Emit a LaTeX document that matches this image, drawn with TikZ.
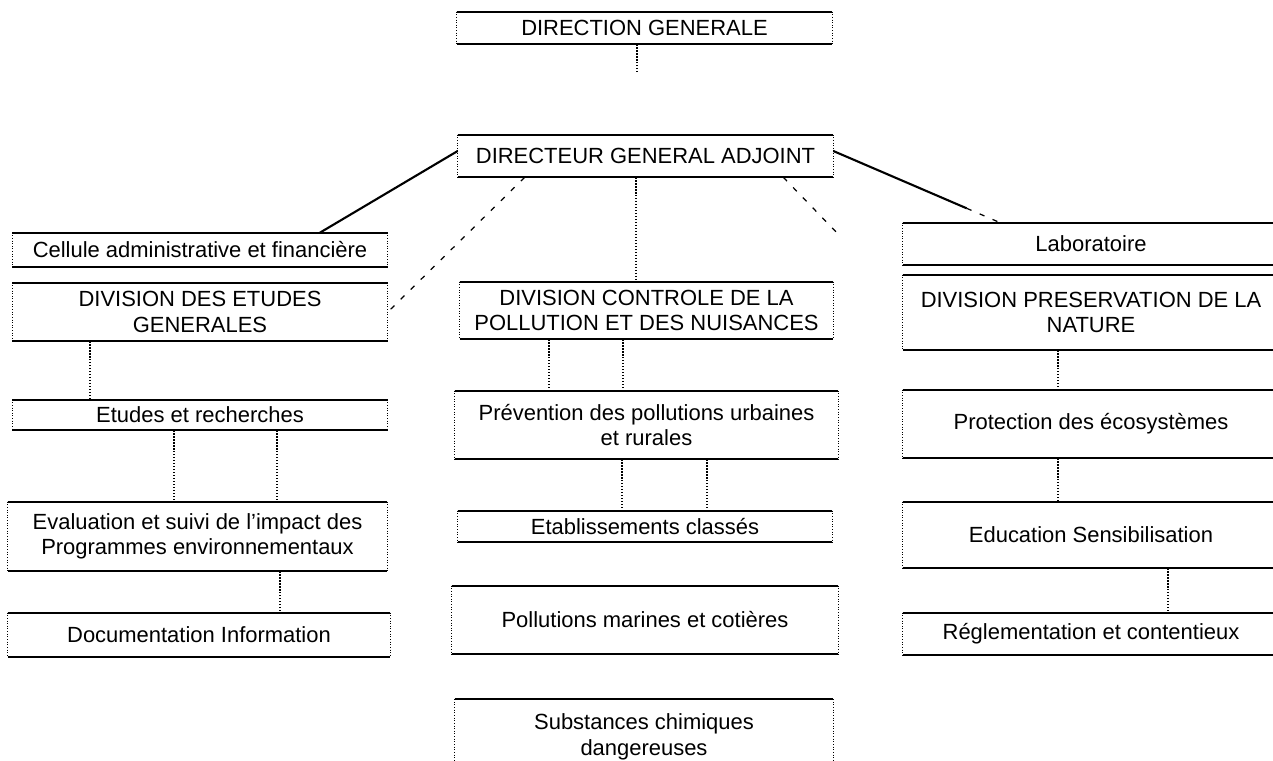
\documentclass[tikz,border=0pt]{standalone}
\usepackage{fontspec}
\setmainfont{Liberation Sans}
\usetikzlibrary{positioning,calc}

\tikzset{
  topline/.style={draw, line width=1.2pt},
  sideline/.style={draw, densely dotted, line width=0.5pt},
  unit/.style={
    minimum width=7.5cm, inner sep=0pt, align=center,
    font=\fontsize{12.5}{14.5}\selectfont,
    append after command={
      (\tikzlastnode.north west) edge[topline] (\tikzlastnode.north east)
      (\tikzlastnode.south west) edge[topline] (\tikzlastnode.south east)
      (\tikzlastnode.north west) edge[sideline] (\tikzlastnode.south west)
      (\tikzlastnode.north east) edge[sideline] (\tikzlastnode.south east)}},
  link/.style={densely dotted, line width=0.7pt},
  tie/.style={line width=1.2pt},
  faint/.style={dashed, dash pattern=on 3pt off 5pt, line width=0.7pt}
}

\begin{document}
\begin{tikzpicture}[x=0.02cm,y=-0.02cm]
  \useasboundingbox (0,0) rectangle (1273,760);

  % Top
  \node (dg)  [unit, minimum height=0.64cm] at (644.5,28) {DIRECTION GENERALE};
  \node (dga) [unit, minimum height=0.84cm] at (645.5,156) {DIRECTEUR GENERAL ADJOINT};

  % Left column
  \node (cel) [unit, minimum height=0.68cm] at (200,250) {Cellule administrative et financière};
  \node (deg) [unit, minimum height=1.16cm] at (200,312) {DIVISION DES ETUDES\\GENERALES};
  \node (rec) [unit, minimum height=0.60cm] at (200,415) {Etudes et recherches};
  \node (eva) [unit, minimum width=7.58cm, minimum height=1.38cm] at (197.5,536.5)
    {Evaluation et suivi de l'impact des\\Programmes environnementaux};
  \node (doc) [unit, minimum width=7.64cm, minimum height=0.88cm] at (199,635) {Documentation Information};

  % Middle column
  \node (dcp) [unit, minimum width=7.46cm, minimum height=1.14cm] at (646.5,310.5)
    {DIVISION CONTROLE DE LA\\POLLUTION ET DES NUISANCES};
  \node (pre) [unit, minimum width=7.66cm, minimum height=1.36cm] at (646.5,425)
    {Prévention des pollutions urbaines\\et rurales};
  \node (eta) [unit, minimum width=7.48cm, minimum height=0.62cm] at (645,526.5) {Etablissements classés};
  \node (pmc) [unit, minimum width=7.72cm, minimum height=1.36cm] at (645,620) {Pollutions marines et cotières};
  \node (sub) [unit, minimum width=7.56cm, minimum height=1.50cm] at (644,737)
    {Substances chimiques\\dangereuses};

  % Right column
  \node (lab) [unit, minimum width=7.52cm, minimum height=0.84cm] at (1091,244) {Laboratoire};
  \node (dpn) [unit, minimum width=7.52cm, minimum height=1.50cm] at (1091,312.5)
    {DIVISION PRESERVATION DE LA\\NATURE};
  \node (pro) [unit, minimum width=7.52cm, minimum height=1.36cm] at (1091,424) {Protection des écosystèmes};
  \node (edu) [unit, minimum width=7.52cm, minimum height=1.32cm] at (1091,535) {Education Sensibilisation};
  \node (reg) [unit, minimum width=7.52cm, minimum height=0.84cm] at (1091,634) {Réglementation et contentieux};

  % Free ends
  \coordinate (dgstub) at (637,72);
  \coordinate (dgaright) at (840,236);

  % Links from the top
  \draw[link] ([xshift=-0.15cm]dg.south) -- ([xshift=-0.15cm]dg.south |- dgstub);
  \draw[tie] ([yshift=0.1cm]dga.west) -- ([xshift=2.4cm]cel.north);
  \draw[tie] ([yshift=0.1cm]dga.east) -- ($([yshift=0.1cm]dga.east)!0.8!([xshift=-1.82cm]lab.north)$);
  \draw[faint] ($([yshift=0.1cm]dga.east)!0.8!([xshift=-1.82cm]lab.north)$) -- ([xshift=-1.82cm]lab.north);
  \draw[faint] ([xshift=1.34cm]dga.south west) -- (deg.east);
  \draw[faint] ([xshift=-1.0cm]dga.south east) -- (dgaright);
  \draw[link] ([xshift=-0.19cm]dga.south) -- ([xshift=-0.19cm]dga.south |- dcp.north);

  % Left column links
  \draw[link] ([xshift=-2.2cm]deg.south) -- ([xshift=-2.2cm]rec.north);
  \draw[link] ([xshift=-0.52cm]rec.south) -- ([xshift=-0.52cm]rec.south |- eva.north);
  \draw[link] ([xshift=1.54cm]rec.south) -- ([xshift=1.54cm]rec.south |- eva.north);
  \draw[link] ([xshift=1.65cm]eva.south) -- ([xshift=1.65cm]eva.south |- doc.north);

  % Middle column links
  \draw[link] ([xshift=-1.95cm]dcp.south) -- ([xshift=-1.95cm]dcp.south |- pre.north);
  \draw[link] ([xshift=-0.47cm]dcp.south) -- ([xshift=-0.47cm]dcp.south |- pre.north);
  \draw[link] ([xshift=-0.49cm]pre.south) -- ([xshift=-0.49cm]pre.south |- eta.north);
  \draw[link] ([xshift=1.21cm]pre.south) -- ([xshift=1.21cm]pre.south |- eta.north);

  % Right column links
  \draw[link] ([xshift=-0.66cm]dpn.south) -- ([xshift=-0.66cm]pro.north);
  \draw[link] ([xshift=-0.66cm]pro.south) -- ([xshift=-0.66cm]edu.north);
  \draw[link] ([xshift=1.54cm]edu.south) -- ([xshift=1.54cm]reg.north);
\end{tikzpicture}
\end{document}
